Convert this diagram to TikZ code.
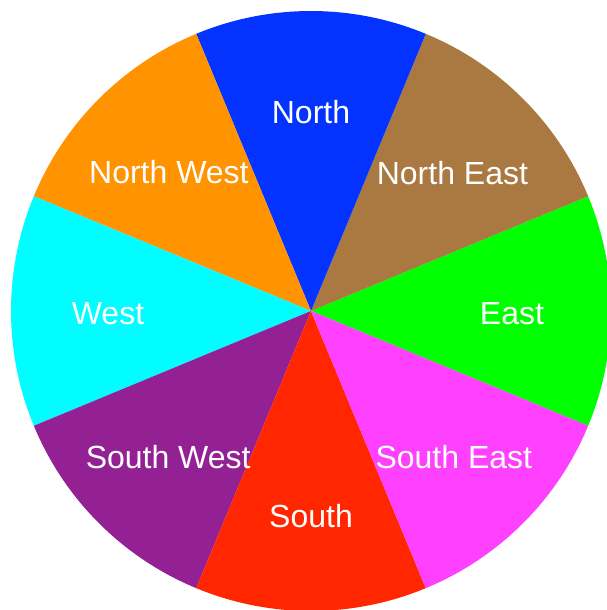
\documentclass[tikz,border=0pt]{standalone}
\usepackage{fontspec}
\setmainfont{Liberation Sans}
\definecolor{dirnorth}{HTML}{0433FF}
\definecolor{dirnortheast}{HTML}{AA7942}
\definecolor{direast}{HTML}{00FF00}
\definecolor{dirsoutheast}{HTML}{FF40FF}
\definecolor{dirsouth}{HTML}{FF2600}
\definecolor{dirsouthwest}{HTML}{942193}
\definecolor{dirwest}{HTML}{00FDFF}
\definecolor{dirnorthwest}{HTML}{FF9300}

\begin{document}
\begin{tikzpicture}[x=1pt, y=1pt,
  dirtext/.style={text=white, yshift=-3pt, font=\fontsize{32}{36}\selectfont}]
\useasboundingbox (0,0) rectangle (607,610);
\clip (0,0) rectangle (607,610);
\coordinate (orig) at (311,299);
% wedges
\fill[direast] (orig) -- ++(-22.5:300pt) arc (-22.5:22.5:300pt) -- cycle;
\fill[dirnortheast] (orig) -- ++(22.5:300pt) arc (22.5:67.5:300pt) -- cycle;
\fill[dirnorth] (orig) -- ++(67.5:300pt) arc (67.5:112.5:300pt) -- cycle;
\fill[dirnorthwest] (orig) -- ++(112.5:300pt) arc (112.5:157.5:300pt) -- cycle;
\fill[dirwest] (orig) -- ++(157.5:300pt) arc (157.5:202.5:300pt) -- cycle;
\fill[dirsouthwest] (orig) -- ++(202.5:300pt) arc (202.5:247.5:300pt) -- cycle;
\fill[dirsouth] (orig) -- ++(247.5:300pt) arc (247.5:292.5:300pt) -- cycle;
\fill[dirsoutheast] (orig) -- ++(292.5:300pt) arc (292.5:337.5:300pt) -- cycle;
% labels
\node[dirtext] (east) at ([shift={(0:201pt)}]orig) {East};
\node[dirtext] (northeast) at ([shift={(45:200pt)}]orig) {North East};
\node[dirtext] (north) at ([shift={(90:202pt)}]orig) {North};
\node[dirtext] (northwest) at ([shift={(135:201pt)}]orig) {North West};
\node[dirtext] (west) at ([shift={(180:203pt)}]orig) {West};
\node[dirtext] (southwest) at ([shift={(225:202pt)}]orig) {South West};
\node[dirtext] (south) at ([shift={(270:202pt)}]orig) {South};
\node[dirtext] (southeast) at ([shift={(315:202pt)}]orig) {South East};
\end{tikzpicture}
\end{document}
